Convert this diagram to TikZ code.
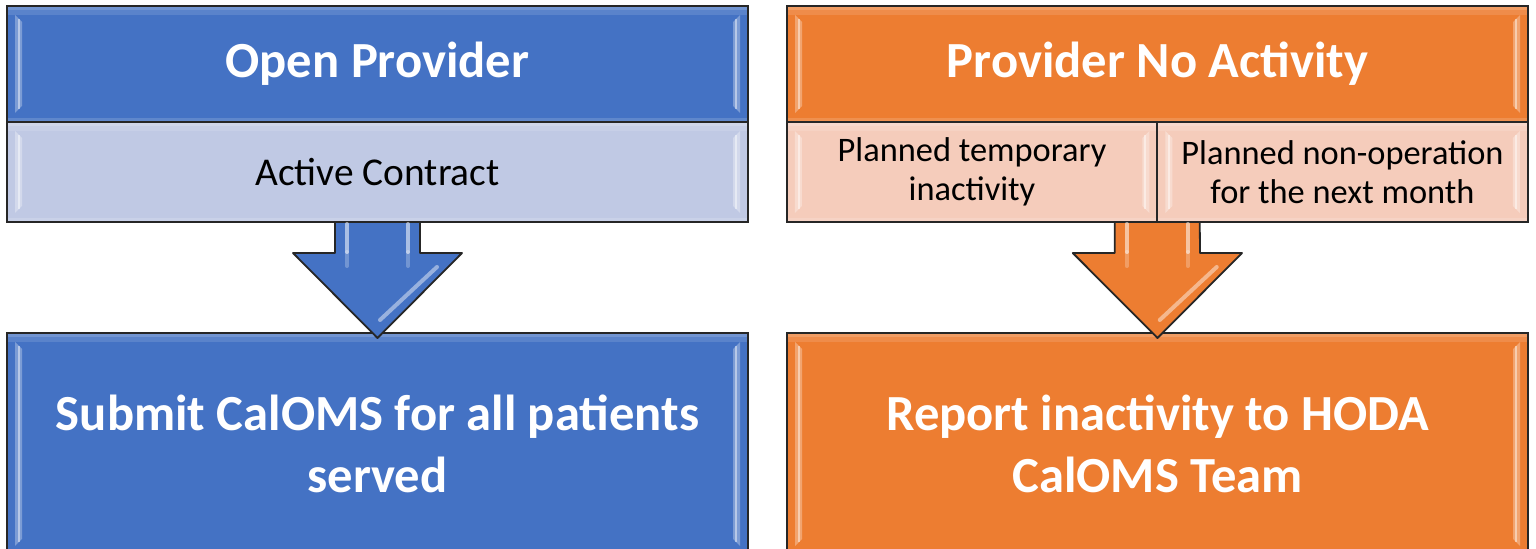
\documentclass[tikz,border=0pt]{standalone}
\usepackage{fontspec}
\setmainfont{Carlito}
\usetikzlibrary{calc}
\definecolor{pblue}{HTML}{4472C4}
\definecolor{pbluelight}{HTML}{C0C9E4}
\definecolor{porange}{HTML}{ED7D31}
\definecolor{porangelight}{HTML}{F5CCBB}

\tikzset{
  % bevelled highlights along the inner edges of a panel
  gloss/.style={path picture={
    \coordinate (gNW) at (path picture bounding box.north west);
    \coordinate (gSE) at (path picture bounding box.south east);
    \coordinate (gNE) at (gSE|-gNW);
    \coordinate (gSW) at (gNW|-gSE);
    \fill[white,opacity=0.25] (gNW) rectangle ($(gNE)+(0,-4)$);
    \fill[white,opacity=0.12] ($(gNW)+(0,-4)$) rectangle ($(gNE)+(0,-9)$);
    \fill[white,opacity=0.15] ($(gSW)+(0,4)$) rectangle (gSE);
    \fill[white,opacity=0.3] ($(gNW)+(8,-9)$) -- ($(gNW)+(15,-16)$) -- ($(gSW)+(15,16)$) -- ($(gSW)+(8,9)$) -- cycle;
    \fill[white,opacity=0.3] ($(gNE)+(-8,-9)$) -- ($(gNE)+(-15,-16)$) -- ($(gSE)+(-15,16)$) -- ($(gSE)+(-8,9)$) -- cycle;
    \draw[white,opacity=0.45,line width=1pt] ($(gNW)+(12,-13)$) -- ($(gSW)+(12,13)$);
    \draw[white,opacity=0.45,line width=1pt] ($(gNE)+(-12,-13)$) -- ($(gSE)+(-12,13)$);
  }},
  panel/.style={draw=black!85, line width=0.9pt, inner sep=0pt, outer sep=0pt,
    rectangle, align=center, minimum width=370.5pt, gloss},
  headpanel/.style={panel, text=white, font=\fontsize{25.3}{31}\selectfont\bfseries},
  subpanel/.style={panel, text=black, minimum width=185.25pt, minimum height=50pt,
    font=\fontsize{17.2}{19.5}\selectfont},
  singlepanel/.style={panel, text=black, minimum height=50pt, font=\fontsize{19.7}{24}\selectfont},
  fatarrow/.style={draw=black!85, line width=0.9pt, line join=round},
  shine/.style={white, line width=2pt, line cap=round}
}

\begin{document}
\begin{tikzpicture}[x=0.5pt,y=0.5pt]
\useasboundingbox (0,0) rectangle (1536,-549);
\clip (0,0) rectangle (1536,-549);

% left column
\node[headpanel, fill=pblue, minimum height=58pt] (lh) at (377.5,-64) {Open Provider};
\node[singlepanel, fill=pbluelight] (la) at (377.5,-172) {Active Contract};
\node[headpanel, fill=pblue, minimum height=111pt] (lb) at (377.5,-444) {Submit CalOMS for all patients\\served};

% right column
\node[headpanel, fill=porange, minimum height=58pt] (rh) at (1157.5,-64) {Provider No Activity};
\node[subpanel, fill=porangelight] (ra1) at (972,-172) {Planned temporary\\inactivity};
\node[subpanel, fill=porangelight] (ra2) at (1342.5,-172) {Planned non-operation\\for the next month};
\node[headpanel, fill=porange, minimum height=111pt] (rb) at (1157.5,-444) {Report inactivity to HODA\\CalOMS Team};

% block arrow, left
\draw[fatarrow, fill=pblue] ($(la.south)+(-42.5,0)$) -- ++(0,-31) -- ++(-42,0)
  -- ([yshift=-2.5pt]lb.north) -- ++(84.5,85) -- ++(-42,0) -- ($(la.south)+(42.5,0)$) -- cycle;
\draw[shine, opacity=0.55] ($(la.south)+(-30.5,-2)$) -- ($(la.south)+(-30.5,-30)$);
\draw[shine, opacity=0.25] ($(la.south)+(-30.5,-30)$) -- ($(la.south)+(-30.5,-44)$);
\draw[shine, opacity=0.55] ($(la.south)+(30.5,-2)$) -- ($(la.south)+(30.5,-30)$);
\draw[shine, opacity=0.25] ($(la.south)+(30.5,-30)$) -- ($(la.south)+(30.5,-44)$);
\draw[shine, opacity=0.45] ($(la.south)+(59.5,-45)$) -- ($(la.south)+(2.5,-98)$);

% block arrow, right
\draw[fatarrow, fill=porange] ($(ra1.south east)+(-42.5,0)$) -- ++(0,-31) -- ++(-42,0)
  -- ([yshift=-2.5pt]rb.north) -- ++(84.5,85) -- ++(-42,0) -- ($(ra1.south east)+(42.5,0)$) -- cycle;
\draw[shine, opacity=0.55] ($(ra1.south east)+(-30.5,-2)$) -- ($(ra1.south east)+(-30.5,-30)$);
\draw[shine, opacity=0.25] ($(ra1.south east)+(-30.5,-30)$) -- ($(ra1.south east)+(-30.5,-44)$);
\draw[shine, opacity=0.55] ($(ra1.south east)+(30.5,-2)$) -- ($(ra1.south east)+(30.5,-30)$);
\draw[shine, opacity=0.25] ($(ra1.south east)+(30.5,-30)$) -- ($(ra1.south east)+(30.5,-44)$);
\draw[shine, opacity=0.45] ($(ra1.south east)+(59.5,-45)$) -- ($(ra1.south east)+(2.5,-98)$);
\end{tikzpicture}
\end{document}
